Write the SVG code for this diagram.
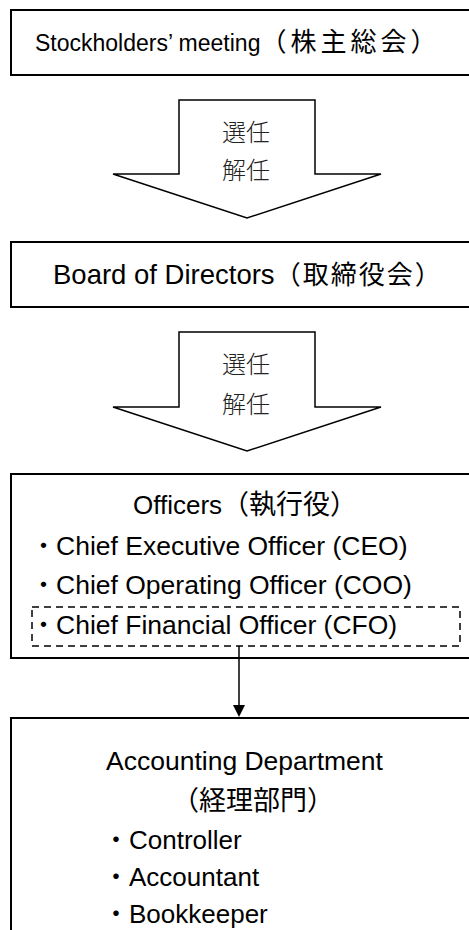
<svg xmlns="http://www.w3.org/2000/svg" width="469" height="930" viewBox="0 0 469 930">
<style>
.box{fill:#fff;stroke:#000;stroke-width:2}
.barrow{fill:#fff;stroke:#000;stroke-width:1.5;stroke-linejoin:miter}
.t{font-family:"Liberation Sans","Noto Sans CJK JP",Arial,sans-serif;font-size:26.5px;fill:#000}
.j{font-family:"Noto Sans CJK JP",sans-serif}
.m{font-family:"Noto Sans CJK JP",serif;font-size:24px;font-weight:300;fill:#222;text-anchor:middle}
.dash{fill:none;stroke:#000;stroke-width:1.5;stroke-dasharray:7 5}
.conn{stroke:#000;stroke-width:1.5;fill:none}
</style>
<rect width="469" height="930" fill="#fff"/>
<g id="stockholders">
<rect class="box" x="11" y="10" width="470" height="65"/>
<text class="t" x="35" y="51" style="font-size:23px">Stockholders’ meeting<tspan class="j" style="font-size:26px;letter-spacing:4px">（株主総会）</tspan></text>
</g>
<g id="arrow1">
<polygon class="barrow" points="179,100 315,100 315,174 381,174 247,218 113,174 179,174"/>
<text class="m" x="246" y="141">選任</text>
<text class="m" x="246" y="179">解任</text>
</g>
<g id="board">
<rect class="box" x="11" y="242" width="470" height="65"/>
<text class="t" x="53" y="284" style="font-size:27.5px">Board of Directors<tspan class="j" style="font-size:26px;letter-spacing:2px">（取締役会）</tspan></text>
</g>
<g id="arrow2">
<polygon class="barrow" points="179,332 315,332 315,407 381,407 247,451 113,407 179,407"/>
<text class="m" x="246" y="373">選任</text>
<text class="m" x="246" y="413">解任</text>
</g>
<g id="officers">
<rect class="box" x="11" y="474" width="470" height="184"/>
<text class="t" x="133" y="514" style="font-size:26px">Officers<tspan class="j" style="font-size:27px">（執行役）</tspan></text>
<text class="t" x="31" y="555"><tspan class="j" style="font-size:25px">・</tspan>Chief Executive Officer (CEO)</text>
<text class="t" x="31" y="594"><tspan class="j" style="font-size:25px">・</tspan>Chief Operating Officer (COO)</text>
<text class="t" x="31" y="634"><tspan class="j" style="font-size:25px">・</tspan>Chief Financial Officer (CFO)</text>
<rect class="dash" x="32" y="607" width="428" height="39"/>
</g>
<g id="accounting">
<path class="box" d="M481,718 H11 V932"/>
<text class="t" x="106" y="770">Accounting Department</text>
<text class="t" x="172" y="810"><tspan class="j" style="font-size:27px">（経理部門）</tspan></text>
<text class="t" x="103" y="849" style="font-size:26px"><tspan class="j">・</tspan>Controller</text>
<text class="t" x="103" y="886" style="font-size:26px"><tspan class="j">・</tspan>Accountant</text>
<text class="t" x="103" y="923" style="font-size:26px"><tspan class="j">・</tspan>Bookkeeper</text>
</g>
<g id="connectors">
<line class="conn" x1="239" y1="646" x2="239" y2="706"/>
<polygon points="233,705 245,705 239,717" fill="#000"/>
</g>
</svg>
